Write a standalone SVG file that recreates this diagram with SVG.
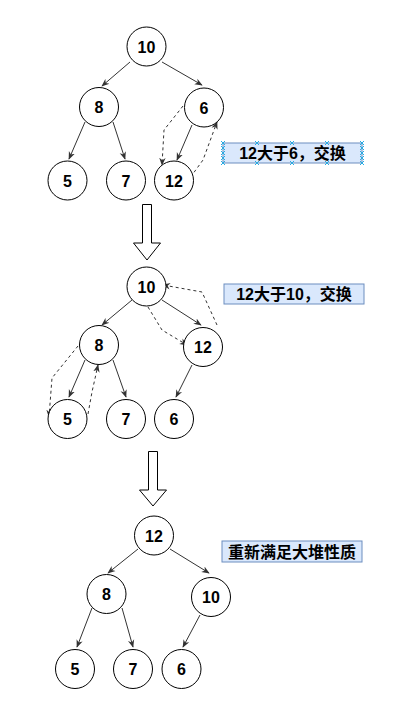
<svg xmlns="http://www.w3.org/2000/svg" width="416" height="710" viewBox="0 0 416 710">
<style>
.n circle{fill:#fff;stroke:#000;stroke-width:1}
.n text{font-family:"Liberation Sans","Noto Sans CJK SC",sans-serif;font-weight:bold;font-size:16px;text-anchor:middle;fill:#000}
.e{fill:none;stroke:#333;stroke-width:1;marker-end:url(#ah)}
.d{fill:none;stroke:#333;stroke-width:1;stroke-dasharray:3 3;marker-end:url(#ah)}
.lb rect{fill:#dae8fc;stroke:#6c8ebf;stroke-width:1}
.lb text{font-family:"Liberation Sans","Noto Sans CJK SC",sans-serif;font-weight:bold;font-size:16px;text-anchor:middle;fill:#000}
.blk{fill:#fff;stroke:#000;stroke-width:1}
.hx{stroke:#29abe2;stroke-width:1;fill:none}
</style>
<defs>
<marker id="ah" viewBox="0 0 10 10" refX="9" refY="5" markerWidth="8" markerHeight="8" markerUnits="userSpaceOnUse" orient="auto">
<path d="M0,1 L10,5 L0,9 L3,5 z" fill="#333"/>
</marker>
<path id="x" d="M-2,-2 L2,2 M-2,2 L2,-2"/>
</defs>
<g id="connectors">
<path class="e" d="M130,62 L102,86"/>
<path class="e" d="M162,62 L202,85"/>
<path class="e" d="M85,122 L69,159"/>
<path class="e" d="M113,122 L125,159"/>
<path class="e" d="M192,125 L177,160"/>
<path class="d" d="M183,106 L164,130 L162,165"/>
<path class="d" d="M187,182 L203,160 L217,122"/>
<path class="e" d="M132,300 L102,325"/>
<path class="e" d="M162,300 L201,325"/>
<path class="e" d="M85,360 L69,397"/>
<path class="e" d="M113,360 L126,397"/>
<path class="e" d="M192,365 L176,397"/>
<path class="d" d="M148,307 L162,330 L187,345"/>
<path class="d" d="M217,325 L202,292 L163,285"/>
<path class="d" d="M78,346 L52,378 L49,417"/>
<path class="d" d="M88,414 L92,392 L98,365"/>
<path class="e" d="M138,549 L108,573"/>
<path class="e" d="M170,549 L209,573"/>
<path class="e" d="M92,608 L77,647"/>
<path class="e" d="M122,608 L133,647"/>
<path class="e" d="M200,615 L183,647"/>
</g>
<g id="t1-10" class="n"><circle cx="146.5" cy="46.5" r="19.5"/><text x="146.5" y="52.5">10</text></g>
<g id="t1-8" class="n"><circle cx="99" cy="107" r="19.5"/><text x="99" y="113">8</text></g>
<g id="t1-6" class="n"><circle cx="204" cy="107.5" r="19.5"/><text x="204" y="113.5">6</text></g>
<g id="t1-5" class="n"><circle cx="67.5" cy="180.5" r="19.5"/><text x="67.5" y="186.5">5</text></g>
<g id="t1-7" class="n"><circle cx="126" cy="180.5" r="19.5"/><text x="126" y="186.5">7</text></g>
<g id="t1-12" class="n"><circle cx="174" cy="180.5" r="19.5"/><text x="174" y="186.5">12</text></g>
<g id="t2-10" class="n"><circle cx="146.5" cy="286.5" r="19.5"/><text x="146.5" y="292.5">10</text></g>
<g id="t2-8" class="n"><circle cx="99" cy="345" r="19.5"/><text x="99" y="351">8</text></g>
<g id="t2-12" class="n"><circle cx="203" cy="347" r="19.5"/><text x="203" y="353">12</text></g>
<g id="t2-5" class="n"><circle cx="67.5" cy="419" r="19.5"/><text x="67.5" y="425">5</text></g>
<g id="t2-7" class="n"><circle cx="126" cy="419" r="19.5"/><text x="126" y="425">7</text></g>
<g id="t2-6" class="n"><circle cx="174" cy="419" r="19.5"/><text x="174" y="425">6</text></g>
<g id="t3-12" class="n"><circle cx="154" cy="535.5" r="19.5"/><text x="154" y="541.5">12</text></g>
<g id="t3-8" class="n"><circle cx="106.5" cy="594" r="19.5"/><text x="106.5" y="600">8</text></g>
<g id="t3-10" class="n"><circle cx="211" cy="597" r="19.5"/><text x="211" y="603">10</text></g>
<g id="t3-5" class="n"><circle cx="75" cy="669" r="19.5"/><text x="75" y="675">5</text></g>
<g id="t3-7" class="n"><circle cx="133" cy="669" r="19.5"/><text x="133" y="675">7</text></g>
<g id="t3-6" class="n"><circle cx="181.5" cy="669" r="19.5"/><text x="181.5" y="675">6</text></g>
<g id="label1" class="lb"><rect x="223" y="143" width="139" height="20"/><text x="292.5" y="159">12大于6，交换</text></g>
<g id="label1-handles" class="hx">
<use href="#x" x="223" y="143"/><use href="#x" x="223" y="148"/><use href="#x" x="223" y="153"/><use href="#x" x="223" y="158"/><use href="#x" x="223" y="163"/>
<use href="#x" x="362" y="143"/><use href="#x" x="362" y="148"/><use href="#x" x="362" y="153"/><use href="#x" x="362" y="158"/><use href="#x" x="362" y="163"/>
<use href="#x" x="257" y="143"/><use href="#x" x="292" y="143"/><use href="#x" x="327" y="143"/>
<use href="#x" x="257" y="163"/><use href="#x" x="292" y="163"/><use href="#x" x="327" y="163"/>
</g>
<g id="label2" class="lb"><rect x="224" y="284" width="140" height="20"/><text x="294" y="300">12大于10，交换</text></g>
<g id="label3" class="lb"><rect x="222" y="541" width="140" height="21"/><text x="292" y="557.5">重新满足大堆性质</text></g>
<g id="arrow1"><path class="blk" d="M142.5,204.5 L151.5,204.5 L151.5,243 L160.5,243 L147,260 L133.5,243 L142.5,243 Z"/></g>
<g id="arrow2"><path class="blk" d="M148.5,451.5 L157.5,451.5 L157.5,490 L166.5,490 L153,506 L139.5,490 L148.5,490 Z"/></g>
</svg>
